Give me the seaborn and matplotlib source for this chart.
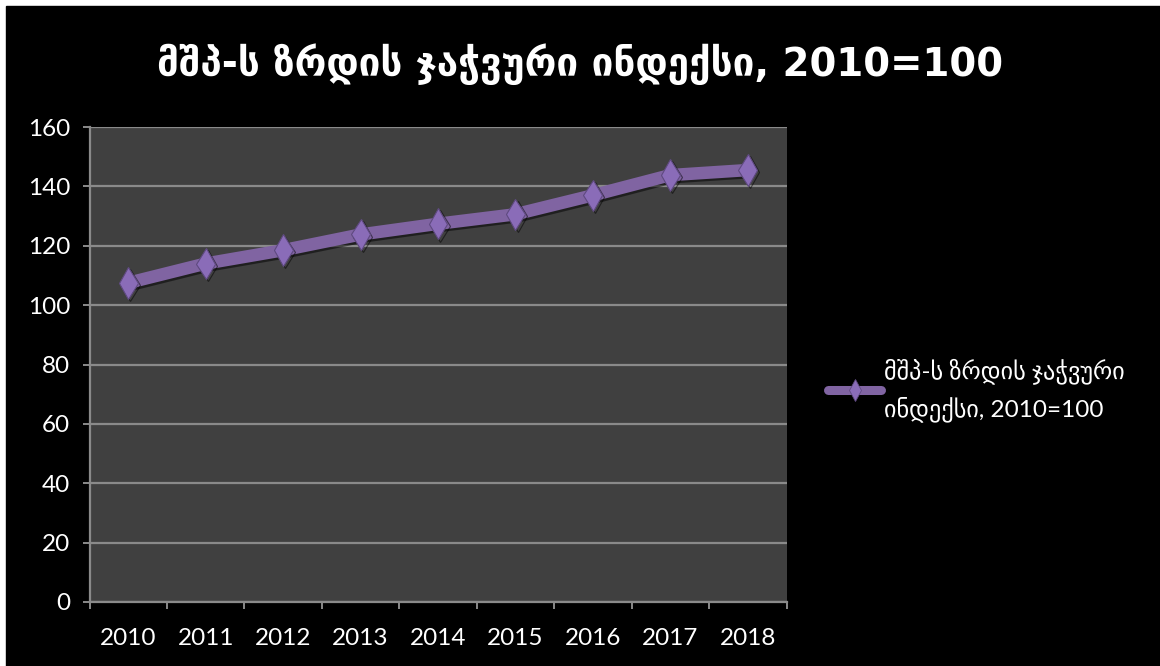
import matplotlib as mpl
import matplotlib.pyplot as plt
import matplotlib.patheffects as pe
from matplotlib.lines import Line2D
import pandas as pd
import seaborn as sns

# data
years = [2010, 2011, 2012, 2013, 2014, 2015, 2016, 2017, 2018]
index_vals = [107.5, 114.0, 118.5, 123.8, 127.4, 130.6, 137.0, 143.8, 145.5]
series_name = "მშპ-ს ზრდის ჯაჭვური ინდექსი, 2010=100"
legend_label = "მშპ-ს ზრდის ჯაჭვური\nინდექსი, 2010=100"
y_ticks = [0, 20, 40, 60, 80, 100, 120, 140, 160]

sns.set_style("dark")
mpl.rcParams["font.family"] = ["Lato", "DejaVu Sans"]

purple = "#8064a2"
grid_grey = "#8a8a8a"

df = pd.DataFrame({"year": years, "value": index_vals})

fig = plt.figure(figsize=(11.6, 6.66), dpi=100, facecolor="white")
# black chart area, white strip on top and left like the screenshot
fig.patches.append(mpl.patches.Rectangle((6 / 1160, 0), 1, 1 - 6 / 666,
                                         transform=fig.transFigure,
                                         color="black", zorder=-10))

ax = fig.add_axes([89.5 / 1160, 1 - 602 / 666, 697 / 1160, 475 / 666])
ax.set_facecolor("#404040")

sns.lineplot(data=df, x="year", y="value", ax=ax, color=purple,
             linewidth=9, marker="d", markersize=16,
             markerfacecolor="#8a6cb8", markeredgecolor="#5f4a80",
             markeredgewidth=0.8, zorder=3, legend=False,
             path_effects=[pe.SimpleLineShadow(offset=(1.5, -1.5), alpha=0.5),
                           pe.Normal()])

ax.set_xlim(years[0] - 0.5, years[-1] + 0.5)
ax.set_ylim(0, 160)
ax.set_yticks(y_ticks)
ax.set_xticks(years)
ax.set_xticks([y - 0.5 for y in years] + [years[-1] + 0.5], minor=True)

ax.grid(axis="y", color=grid_grey, linewidth=1.6)
ax.grid(axis="x", visible=False)
ax.set_axisbelow(True)

for side in ["top", "right"]:
    ax.spines[side].set_visible(False)
for side in ["left", "bottom"]:
    ax.spines[side].set_visible(True)
    ax.spines[side].set_color(grid_grey)
    ax.spines[side].set_linewidth(1.6)

ax.tick_params(axis="y", which="major", direction="out", length=5,
               width=1.4, color=grid_grey, labelcolor="white",
               labelsize=17.5, pad=9, left=True)
ax.tick_params(axis="x", which="major", length=0, labelcolor="white",
               labelsize=17.5, pad=19, bottom=False)
ax.tick_params(axis="x", which="minor", direction="out", length=5,
               width=1.4, color=grid_grey, bottom=True)

ax.set_xlabel("")
ax.set_ylabel("")

fig.text(0.5, 1 - 64 / 666, series_name, color="white", fontsize=27.8,
         fontweight="bold", family="DejaVu Sans", ha="center", va="center")

handle = Line2D([], [], color=purple, linewidth=6.5, marker="d",
                markersize=11, markerfacecolor="#8a6cb8",
                markeredgecolor="#5f4a80", markeredgewidth=0.6)
leg = ax.legend([handle], [legend_label], loc="center left",
                bbox_to_anchor=(806 / 1160, 1 - 390 / 666),
                bbox_transform=fig.transFigure, frameon=False,
                fontsize=17.5, handlelength=2.2, handletextpad=0.1,
                labelcolor="white")
for t in leg.get_texts():
    t.set_linespacing(1.6)

fig.savefig("out.png", dpi=100, facecolor=fig.get_facecolor())
